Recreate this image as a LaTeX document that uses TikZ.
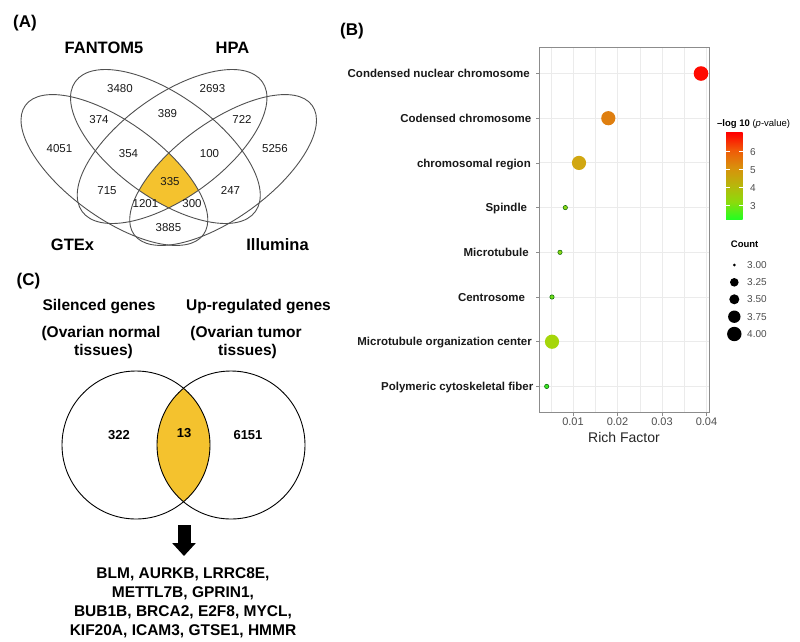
\documentclass[tikz,border=0pt]{standalone}
\usepackage{fontspec}
\setmainfont{Liberation Sans}
\usetikzlibrary{arrows.meta}

\definecolor{venngold}{HTML}{F4C22E}
\definecolor{vennline}{HTML}{505050}
\definecolor{gridline}{HTML}{EBEBEB}
\definecolor{framegray}{HTML}{8C8C8C}
\definecolor{ticklab}{HTML}{4D4D4D}
\definecolor{lp0}{HTML}{22FF22}
\definecolor{lp1}{HTML}{8CDB0C}
\definecolor{lp2}{HTML}{B9B50C}
\definecolor{lp3}{HTML}{D9900C}
\definecolor{lp4}{HTML}{F05A08}
\definecolor{lp5}{HTML}{FF0000}
\definecolor{dotred}{HTML}{FF0A00}
\definecolor{dotorange}{HTML}{DF7F10}
\definecolor{dotgold}{HTML}{D1A711}
\definecolor{dotlime}{HTML}{A5D60A}
\definecolor{dotgreen}{HTML}{8CD616}
\definecolor{dotgreenb}{HTML}{6EDC1A}
\definecolor{dotgreenc}{HTML}{3CE424}
\pgfdeclareverticalshading{logpbar}{100bp}{color(0bp)=(lp0); color(25bp)=(lp0); color(35bp)=(lp1); color(45bp)=(lp2); color(55bp)=(lp3); color(65bp)=(lp4); color(75bp)=(lp5); color(100bp)=(lp5)}

\begin{document}
\begin{tikzpicture}[x=1pt, y=-1pt,
    every node/.style={inner sep=0pt},
    panel/.style={font=\fontsize{17}{20}\selectfont\bfseries, anchor=base west},
    setname/.style={font=\fontsize{16.5}{19}\selectfont\bfseries, anchor=base},
    areanum/.style={font=\fontsize{11.5}{13}\selectfont, text=black!90},
    bigtext/.style={font=\fontsize{15.5}{19}\selectfont\bfseries},
    lensnum/.style={font=\fontsize{13}{15}\selectfont\bfseries},
    term/.style={font=\fontsize{11.5}{13}\selectfont\bfseries, text=black!90, anchor=base east},
    ticklabel/.style={font=\fontsize{11}{13}\selectfont, text=ticklab, anchor=base},
    legtext/.style={font=\fontsize{10}{12}\selectfont, text=ticklab, anchor=west},
    bigarrow/.style={line width=13pt, -{Triangle[width=23pt,length=13pt]}}]
\useasboundingbox (0,0) rectangle (800,641);

% panel letters
\node[panel] (pA) at (13,27) {(A)};
\node[panel] (pB) at (340,35) {(B)};
\node[panel] (pC) at (16.5,285) {(C)};

% (A) four-set venn
\begin{scope}
  \clip[rotate around={-36:(114.4,170)}] (114.4,170) ellipse [x radius=110, y radius=48];
  \clip[rotate around={36:(223.1,170)}] (223.1,170) ellipse [x radius=110, y radius=48];
  \clip[rotate around={-35.8:(165.4,146.5)}] (165.4,146.5) ellipse [x radius=111, y radius=51];
  \fill[venngold, rotate around={35.8:(172.1,146.5)}] (172.1,146.5) ellipse [x radius=111, y radius=51];
\end{scope}
\foreach \cx/\cy/\ra/\rb/\rot in {114.4/170/110/48/-36, 223.1/170/110/48/36,
                                  165.4/146.5/111/51/-35.8, 172.1/146.5/111/51/35.8}
  \draw[vennline, line width=0.9pt, rotate around={\rot:(\cx,\cy)}] (\cx,\cy) ellipse [x radius=\ra, y radius=\rb];

\node[setname] (fantom) at (104,53.3) {FANTOM5};
\node[setname] (hpa) at (232.5,53.3) {HPA};
\node[setname] (gtex) at (72.5,250) {GTEx};
\node[setname] (illumina) at (277.5,250) {Illumina};

\foreach \n/\x/\y in {3480/120/89, 2693/212.5/89, 389/167.5/114, 374/99/120, 722/242/119,
                      4051/59.5/148.5, 354/128.5/153.5, 100/209.5/153.5, 5256/275/148.5,
                      335/170/182, 715/107/190.5, 247/230.5/190.5, 1201/145.5/203.5,
                      300/192/203.5, 3885/168.5/228}
  \node[areanum] (n\n) at (\x,\y) {\n};

% (B) enrichment dot plot
\foreach \k in {1,3,5,7}
  \draw[gridline, line width=0.5pt] ({528.5+22.25*\k},47) -- ({528.5+22.25*\k},412);
\foreach \k in {2,4,6,8}
  \draw[gridline, line width=0.9pt] ({528.5+22.25*\k},47) -- ({528.5+22.25*\k},412);
\foreach \i in {1,...,8}
  \draw[gridline, line width=0.9pt] (539.5,{73.5+44.7*(\i-1)}) -- (709,{73.5+44.7*(\i-1)});
\draw[framegray, line width=1pt] (539.5,47) rectangle (709,412);

\foreach \t/\tx [count=\i] in {Condensed nuclear chromosome/530, Codensed chromosome/531.5,
                               chromosomal region/531, Spindle/527.3, Microtubule/529,
                               Centrosome/525.3, Microtubule organization center/532,
                               Polymeric cytoskeletal fiber/533.5}
{
  \node[term] (t\i) at (\tx,{73.5+44.7*(\i-1)+4.1}) {\t};
  \draw[framegray, line width=0.8pt] (536,{73.5+44.7*(\i-1)}) -- (539.5,{73.5+44.7*(\i-1)});
}
\foreach \v [count=\k] in {0.01,0.02,0.03,0.04}
{
  \draw[framegray, line width=0.8pt] ({528.5+44.5*\k},412) -- ({528.5+44.5*\k},415.5);
  \node[ticklabel] (x\k) at ({528.5+44.5*\k},425) {\v};
}
\node[font=\fontsize{14}{16}\selectfont, text=black!85, anchor=base] (xlab) at (624,442) {Rich Factor};

% dots: row / x / radius / colour
\foreach \i/\px/\r/\col in {1/701/7.3/dotred, 2/608.3/7.1/dotorange, 3/579/7.1/dotgold, 7/552/7.1/dotlime}
  \fill[\col] (\px,{73.5+44.7*(\i-1)}) circle (\r);
\foreach \i/\px/\col in {4/565.3/dotgreen, 5/560/dotgreen, 6/552/dotgreenb, 8/546.7/dotgreenc}
  \filldraw[fill=\col, draw=black!45!green!70!black, line width=0.5pt] (\px,{73.5+44.7*(\i-1)}) circle (2.2);

% legends
\node[anchor=base west, font=\fontsize{9.5}{11}\selectfont] (lptitle) at (717,126.5) {\textbf{–log 10} (\textit{p}-value)};
\shade[shading=logpbar] (726,132.7) rectangle (742.7,219.3);
\foreach \v in {3,...,6}
{
  \draw[white, line width=0.6pt] (726,{205.7-18*(\v-3)}) -- (729.5,{205.7-18*(\v-3)});
  \draw[white, line width=0.6pt] (739.2,{205.7-18*(\v-3)}) -- (742.7,{205.7-18*(\v-3)});
  \node[legtext] (lp\v) at (750,{205.7-18*(\v-3)}) {\v};
}
\node[anchor=base west, font=\fontsize{9.5}{11}\selectfont\bfseries] (counttitle) at (730.7,247) {Count};
\foreach \v/\y/\r [count=\k] in {3.00/265/1.5, 3.25/282.3/4.3, 3.50/299.3/5.0, 3.75/316.7/6.2, 4.00/334/7.2}
{
  \fill (734.3,\y) circle (\r);
  \node[legtext] (cnt\k) at (747,\y) {\v};
}

% (C) two-set venn
\node[bigtext, anchor=base] (silenced) at (99,310) {Silenced genes};
\node[bigtext, anchor=base] (upreg) at (258.5,310) {Up-regulated genes};
\node[bigtext, anchor=base] (normal1) at (101,337) {(Ovarian normal};
\node[bigtext, anchor=base] (normal2) at (103.5,355) {tissues)};
\node[bigtext, anchor=base] (tumor1) at (246,337) {(Ovarian tumor};
\node[bigtext, anchor=base] (tumor2) at (247.5,355) {tissues)};

\begin{scope}
  \clip (136,445) circle (74);
  \fill[venngold] (231,445) circle (74);
\end{scope}
\draw[line width=0.9pt] (136,445) circle (74);
\draw[line width=0.9pt] (231,445) circle (74);
\node[lensnum] (c322) at (119,435.3) {322};
\node[lensnum] (c13) at (184.2,433) {13};
\node[lensnum] (c6151) at (248,435) {6151};

\coordinate (arrowtop) at (184,525);
\coordinate (arrowtip) at (184,556);
\draw[bigarrow] (arrowtop) -- (arrowtip);

\node[bigtext, align=center] (genes) at (183,603) {BLM, AURKB, LRRC8E,\\METTL7B, GPRIN1,\\BUB1B, BRCA2, E2F8, MYCL,\\KIF20A, ICAM3, GTSE1, HMMR};
\end{tikzpicture}
\end{document}
